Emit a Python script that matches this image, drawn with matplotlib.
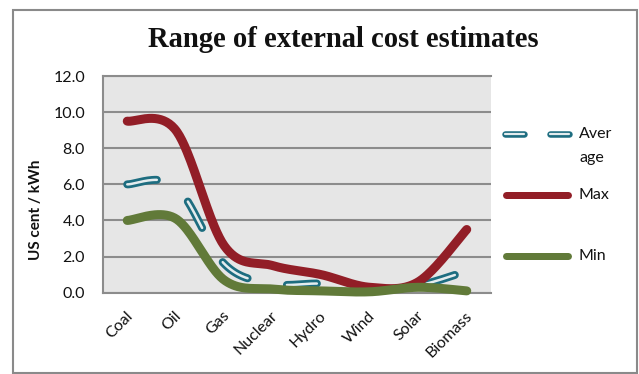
import textwrap
import numpy as np
import matplotlib
matplotlib.use("Agg")
import matplotlib.pyplot as plt
from matplotlib.lines import Line2D
from matplotlib.patches import Rectangle
from matplotlib.transforms import ScaledTranslation

plt.rcParams["lines.scale_dashes"] = False
plt.rcParams["font.family"] = ["Lato", "DejaVu Sans"]

# ---- data -------------------------------------------------------------
categories = ["Coal", "Oil", "Gas", "Nuclear", "Hydro", "Wind", "Solar", "Biomass"]
average = [6.0, 5.9, 1.6, 0.5, 0.5, 0.2, 0.4, 1.2]
maximum = [9.5, 9.0, 2.6, 1.5, 1.0, 0.3, 0.6, 3.5]
minimum = [4.0, 4.1, 0.7, 0.2, 0.1, 0.05, 0.3, 0.1]
series_names = ["Average", "Max", "Min"]
y_ticks = [0, 2, 4, 6, 8, 10, 12]

title = "Range of external cost estimates"
y_label = "US cent / kWh"

# ---- styling ------------------------------------------------------------
W, H = 639, 374
TEAL = "#1d6d80"
TEAL_IN = "#e4ecee"
RED = "#921e27"
GREEN = "#617a39"
GRID = "#8c8c8c"
PX = 0.72  # points per pixel at 100 dpi


def fx(x):
    return x / W


def fy(y):
    return 1 - y / H


def smooth(xs, ys, n=40):
    """Cubic Bezier smoothing through every point (spreadsheet-style)."""
    pts = np.column_stack([xs, ys]).astype(float)
    out = []
    for i in range(len(pts) - 1):
        p0 = pts[i - 1] if i > 0 else pts[i]
        p1 = pts[i]
        p2 = pts[i + 1]
        p3 = pts[i + 2] if i + 2 < len(pts) else pts[i + 1]
        c1 = p1 + (p2 - p0) / 6
        c2 = p2 - (p3 - p1) / 6
        t = np.linspace(0, 1, n)[:, None]
        seg = ((1 - t) ** 3 * p1 + 3 * (1 - t) ** 2 * t * c1
               + 3 * (1 - t) * t ** 2 * c2 + t ** 3 * p2)
        out.append(seg if i == 0 else seg[1:])
    return np.vstack(out)


fig = plt.figure(figsize=(W / 100, H / 100), dpi=100)

# chart border
fig.add_artist(Rectangle((fx(13), fy(372.5)), fx(637) - fx(13), fy(10) - fy(372.5),
                         transform=fig.transFigure, fill=False,
                         edgecolor="#8a8a8a", lw=1.5))

ax = fig.add_axes([fx(103), fy(292.7), fx(491) - fx(103), fy(76) - fy(292.7)])
ax.set_facecolor("#e6e6e6")
ax.set_xlim(-0.5, len(categories) - 0.5)
ax.set_ylim(0, 12)

ax.set_yticks(y_ticks)
ax.set_yticklabels([f"{v:.1f}" for v in y_ticks])
ax.tick_params(axis="y", length=0, pad=13, labelsize=11.5, labelcolor="#111111")
ax.set_xticks(range(len(categories)))
ax.set_xticklabels([])
ax.tick_params(axis="x", length=0)

ax.grid(axis="y", color=GRID, lw=1.5)
ax.set_axisbelow(True)
for side in ["left", "bottom", "top"]:
    ax.spines[side].set_color(GRID)
    ax.spines[side].set_linewidth(1.5)
ax.spines["right"].set_visible(False)

x = np.arange(len(categories))

# Average: outlined dashed line
avg_xy = smooth(x, average)
dash = (0, (30 * PX, 40 * PX))
ax.plot(avg_xy[:, 0], avg_xy[:, 1], color=TEAL, lw=8 * PX, linestyle=dash,
        dash_capstyle="round", clip_on=False, zorder=3)
ax.plot(avg_xy[:, 0], avg_xy[:, 1], color=TEAL_IN, lw=2.5 * PX, linestyle=dash,
        dash_capstyle="round", clip_on=False, zorder=3.1)

max_xy = smooth(x, maximum)
ax.plot(max_xy[:, 0], max_xy[:, 1], color=RED, lw=9 * PX,
        solid_capstyle="round", clip_on=False, zorder=4)

min_xy = smooth(x, minimum)
ax.plot(min_xy[:, 0], min_xy[:, 1], color=GREEN, lw=9 * PX,
        solid_capstyle="round", clip_on=False, zorder=5)

# category labels
for i, c in enumerate(categories):
    tr = ax.get_xaxis_transform() + ScaledTranslation(3 / 100, -21 / 100, fig.dpi_scale_trans)
    ax.text(i, 0, c, transform=tr, rotation=45, ha="right", va="center",
            rotation_mode="anchor", fontsize=11.5, color="#111111")

# title and axis label
fig.text(fx(343.5), fy(47), title, ha="center", va="baseline",
         fontsize=20.6, fontweight="bold", family="Liberation Serif", color="#111111")
fig.text(fx(36), fy(210), y_label, ha="center", va="center", rotation=90,
         fontsize=11, fontweight="bold", color="#111111")

# legend
leg_y = [134, 195, 256]
styles = [(TEAL, True), (RED, False), (GREEN, False)]
for name, yy, (col, dashed) in zip(series_names, leg_y, styles):
    if dashed:
        ldash = (0, (19 * PX, 26 * PX))
        fig.add_artist(Line2D([fx(505), fx(569)], [fy(yy)] * 2, transform=fig.transFigure,
                              color=col, lw=6.5 * PX, linestyle=ldash,
                              dash_capstyle="round"))
        fig.add_artist(Line2D([fx(505), fx(569)], [fy(yy)] * 2, transform=fig.transFigure,
                              color=TEAL_IN, lw=2.2 * PX, linestyle=ldash,
                              dash_capstyle="round"))
    else:
        fig.add_artist(Line2D([fx(506), fx(568)], [fy(yy)] * 2, transform=fig.transFigure,
                              color=col, lw=7 * PX, solid_capstyle="round"))
    for k, part in enumerate(textwrap.wrap(name, 4)):
        fig.text(fx(579), fy(yy + 24 * k), part, ha="left", va="center",
                 fontsize=11.5, color="#111111")

fig.savefig("out.png", dpi=100)
